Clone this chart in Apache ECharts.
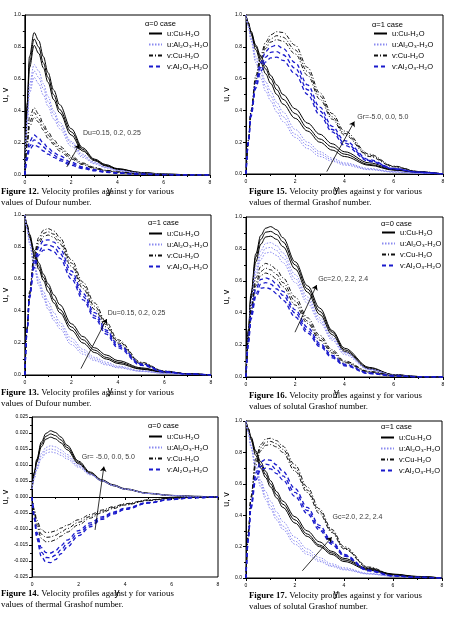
<!DOCTYPE html>
<html lang="en">
<head>
    <meta charset="UTF-8">
    <title>Velocity profiles</title>
    <script src="https://cdn.jsdelivr.net/npm/echarts/dist/echarts.min.js"></script>
    <style>
        body { margin: 0; background: #fff; }
    </style>
</head>
<body>
    <div id="main" style="width:449px;height:622px;"></div>

    <script>
        // y positions where the curves are sampled
        const ys = [0, 0.1, 0.2, 0.4, 0.6, 0.8, 1, 1.25, 1.5, 2, 2.5, 3, 3.5, 4, 5, 6, 7, 8];

        // Figure 12 (alpha=0, Du)
        const fig12_uCu = [
            [0, 0.45, 0.74, 0.89, 0.84, 0.74, 0.64, 0.53, 0.44, 0.29, 0.17, 0.10, 0.065, 0.04, 0.016, 0.006, 0.002, 0],
            [0, 0.42, 0.70, 0.85, 0.80, 0.70, 0.61, 0.50, 0.41, 0.27, 0.16, 0.095, 0.06, 0.038, 0.015, 0.006, 0.002, 0],
            [0, 0.40, 0.67, 0.81, 0.76, 0.67, 0.58, 0.47, 0.39, 0.25, 0.15, 0.09, 0.056, 0.035, 0.014, 0.005, 0.002, 0]
        ];
        const fig12_uAl = [
            [0, 0.35, 0.57, 0.69, 0.65, 0.57, 0.49, 0.40, 0.33, 0.21, 0.13, 0.08, 0.05, 0.03, 0.012, 0.005, 0.002, 0],
            [0, 0.33, 0.54, 0.65, 0.61, 0.54, 0.46, 0.38, 0.31, 0.20, 0.12, 0.075, 0.047, 0.028, 0.011, 0.004, 0.002, 0],
            [0, 0.31, 0.51, 0.61, 0.57, 0.50, 0.43, 0.35, 0.29, 0.18, 0.11, 0.07, 0.044, 0.026, 0.01, 0.004, 0.001, 0]
        ];
        const fig12_vCu = [
            [0, 0.22, 0.36, 0.42, 0.38, 0.32, 0.27, 0.22, 0.18, 0.12, 0.075, 0.048, 0.03, 0.02, 0.008, 0.003, 0.001, 0],
            [0, 0.20, 0.33, 0.39, 0.35, 0.30, 0.25, 0.20, 0.165, 0.11, 0.07, 0.044, 0.028, 0.018, 0.007, 0.003, 0.001, 0],
            [0, 0.18, 0.30, 0.36, 0.33, 0.28, 0.23, 0.19, 0.15, 0.10, 0.065, 0.04, 0.026, 0.016, 0.006, 0.002, 0.001, 0]
        ];
        const fig12_vAl = [
            [0, 0.13, 0.21, 0.25, 0.23, 0.20, 0.17, 0.14, 0.12, 0.08, 0.05, 0.033, 0.021, 0.013, 0.005, 0.002, 0.001, 0],
            [0, 0.11, 0.18, 0.22, 0.20, 0.175, 0.15, 0.125, 0.10, 0.07, 0.045, 0.03, 0.019, 0.012, 0.005, 0.002, 0.001, 0],
            [0, 0.095, 0.16, 0.19, 0.175, 0.15, 0.13, 0.11, 0.09, 0.06, 0.04, 0.026, 0.017, 0.011, 0.004, 0.002, 0.001, 0]
        ];

        // Figure 15 (alpha=1, Gr)
        const fig15_uCu = [
            [1, 0.95, 0.90, 0.81, 0.74, 0.68, 0.62, 0.56, 0.50, 0.41, 0.32, 0.25, 0.19, 0.14, 0.07, 0.03, 0.012, 0],
            [1, 0.95, 0.89, 0.80, 0.72, 0.66, 0.60, 0.53, 0.47, 0.38, 0.29, 0.22, 0.17, 0.125, 0.06, 0.027, 0.01, 0],
            [1, 0.94, 0.88, 0.78, 0.70, 0.63, 0.57, 0.50, 0.44, 0.35, 0.27, 0.20, 0.15, 0.11, 0.055, 0.024, 0.009, 0]
        ];
        const fig15_uAl = [
            [1, 0.93, 0.86, 0.74, 0.65, 0.58, 0.52, 0.45, 0.39, 0.28, 0.20, 0.14, 0.10, 0.07, 0.035, 0.015, 0.006, 0],
            [1, 0.93, 0.85, 0.72, 0.63, 0.55, 0.49, 0.42, 0.36, 0.25, 0.18, 0.125, 0.09, 0.063, 0.03, 0.013, 0.005, 0],
            [1, 0.92, 0.84, 0.70, 0.60, 0.52, 0.46, 0.39, 0.33, 0.23, 0.16, 0.11, 0.08, 0.056, 0.027, 0.012, 0.005, 0]
        ];
        const fig15_vCu = [
            [0, 0.22, 0.40, 0.62, 0.75, 0.83, 0.875, 0.895, 0.89, 0.81, 0.67, 0.51, 0.38, 0.27, 0.125, 0.05, 0.016, 0],
            [0, 0.21, 0.39, 0.60, 0.73, 0.81, 0.85, 0.87, 0.86, 0.78, 0.645, 0.49, 0.36, 0.255, 0.118, 0.047, 0.015, 0],
            [0, 0.21, 0.38, 0.59, 0.71, 0.79, 0.83, 0.845, 0.835, 0.755, 0.62, 0.47, 0.345, 0.245, 0.11, 0.045, 0.014, 0]
        ];
        const fig15_vAl = [
            [0, 0.21, 0.38, 0.58, 0.70, 0.77, 0.80, 0.81, 0.79, 0.70, 0.56, 0.42, 0.30, 0.21, 0.09, 0.035, 0.012, 0],
            [0, 0.20, 0.37, 0.56, 0.67, 0.735, 0.765, 0.77, 0.75, 0.665, 0.53, 0.395, 0.28, 0.195, 0.085, 0.033, 0.011, 0],
            [0, 0.20, 0.36, 0.54, 0.645, 0.705, 0.73, 0.735, 0.715, 0.63, 0.50, 0.37, 0.265, 0.18, 0.08, 0.03, 0.01, 0]
        ];

        // Figure 13 (alpha=1, Du)
        const fig13_uCu = [
            [1, 0.94, 0.88, 0.78, 0.70, 0.63, 0.57, 0.50, 0.44, 0.32, 0.24, 0.17, 0.125, 0.09, 0.045, 0.02, 0.008, 0],
            [1, 0.93, 0.87, 0.76, 0.68, 0.61, 0.55, 0.47, 0.41, 0.30, 0.22, 0.155, 0.11, 0.08, 0.04, 0.018, 0.007, 0],
            [1, 0.93, 0.86, 0.75, 0.66, 0.59, 0.52, 0.45, 0.39, 0.28, 0.20, 0.14, 0.10, 0.072, 0.036, 0.016, 0.006, 0]
        ];
        const fig13_uAl = [
            [1, 0.92, 0.84, 0.70, 0.60, 0.52, 0.46, 0.39, 0.33, 0.23, 0.16, 0.11, 0.08, 0.055, 0.027, 0.012, 0.005, 0],
            [1, 0.91, 0.83, 0.68, 0.58, 0.50, 0.43, 0.36, 0.31, 0.21, 0.145, 0.10, 0.07, 0.05, 0.024, 0.011, 0.004, 0],
            [1, 0.91, 0.82, 0.67, 0.56, 0.48, 0.41, 0.34, 0.29, 0.19, 0.13, 0.09, 0.063, 0.045, 0.022, 0.01, 0.004, 0]
        ];
        const fig13_vCu = [
            [0, 0.30, 0.52, 0.76, 0.86, 0.905, 0.915, 0.90, 0.86, 0.72, 0.58, 0.45, 0.33, 0.22, 0.08, 0.025, 0.008, 0],
            [0, 0.29, 0.51, 0.74, 0.84, 0.885, 0.895, 0.88, 0.84, 0.70, 0.56, 0.43, 0.315, 0.21, 0.075, 0.023, 0.007, 0],
            [0, 0.29, 0.50, 0.72, 0.82, 0.865, 0.875, 0.86, 0.82, 0.68, 0.54, 0.41, 0.30, 0.20, 0.07, 0.022, 0.007, 0]
        ];
        const fig13_vAl = [
            [0, 0.29, 0.50, 0.71, 0.80, 0.84, 0.845, 0.83, 0.79, 0.65, 0.51, 0.39, 0.28, 0.19, 0.07, 0.022, 0.007, 0],
            [0, 0.28, 0.49, 0.69, 0.77, 0.81, 0.815, 0.80, 0.76, 0.625, 0.49, 0.37, 0.27, 0.18, 0.065, 0.02, 0.006, 0],
            [0, 0.28, 0.48, 0.67, 0.75, 0.78, 0.785, 0.77, 0.73, 0.60, 0.47, 0.355, 0.255, 0.17, 0.06, 0.019, 0.006, 0]
        ];

        // Figure 16 (alpha=0, Gc)
        const fig16_uCu = [
            [0, 0.30, 0.52, 0.77, 0.885, 0.93, 0.94, 0.92, 0.87, 0.72, 0.57, 0.43, 0.29, 0.18, 0.06, 0.015, 0.003, 0],
            [0, 0.29, 0.50, 0.75, 0.86, 0.905, 0.91, 0.89, 0.845, 0.70, 0.55, 0.41, 0.28, 0.17, 0.055, 0.014, 0.003, 0],
            [0, 0.28, 0.49, 0.72, 0.83, 0.875, 0.88, 0.86, 0.815, 0.675, 0.53, 0.39, 0.265, 0.16, 0.05, 0.013, 0.003, 0]
        ];
        const fig16_uAl = [
            [0, 0.27, 0.47, 0.69, 0.79, 0.835, 0.84, 0.82, 0.775, 0.64, 0.50, 0.37, 0.25, 0.155, 0.05, 0.013, 0.003, 0],
            [0, 0.26, 0.45, 0.66, 0.76, 0.805, 0.81, 0.79, 0.745, 0.615, 0.48, 0.355, 0.24, 0.15, 0.048, 0.012, 0.003, 0],
            [0, 0.25, 0.44, 0.64, 0.735, 0.775, 0.78, 0.76, 0.715, 0.59, 0.46, 0.34, 0.23, 0.14, 0.045, 0.011, 0.002, 0]
        ];
        const fig16_vCu = [
            [0, 0.25, 0.43, 0.62, 0.69, 0.71, 0.70, 0.67, 0.62, 0.50, 0.37, 0.26, 0.17, 0.10, 0.035, 0.01, 0.002, 0],
            [0, 0.24, 0.41, 0.59, 0.66, 0.68, 0.67, 0.64, 0.59, 0.475, 0.35, 0.245, 0.16, 0.095, 0.033, 0.009, 0.002, 0],
            [0, 0.23, 0.40, 0.57, 0.635, 0.65, 0.64, 0.61, 0.565, 0.45, 0.335, 0.23, 0.15, 0.09, 0.03, 0.008, 0.002, 0]
        ];
        const fig16_vAl = [
            [0, 0.23, 0.39, 0.55, 0.61, 0.62, 0.61, 0.58, 0.535, 0.42, 0.31, 0.21, 0.135, 0.08, 0.025, 0.007, 0.002, 0],
            [0, 0.22, 0.37, 0.52, 0.58, 0.59, 0.58, 0.55, 0.51, 0.40, 0.29, 0.20, 0.128, 0.075, 0.023, 0.006, 0.001, 0],
            [0, 0.21, 0.36, 0.50, 0.555, 0.56, 0.55, 0.52, 0.48, 0.375, 0.275, 0.19, 0.12, 0.07, 0.021, 0.006, 0.001, 0]
        ];

        // Figure 14 (alpha=0, Gr)
        const fig14_uCu = [
            [0.0025, 0.0078, 0.0118, 0.0172, 0.0199, 0.0207, 0.0202, 0.0187, 0.0162, 0.0112, 0.0078, 0.0054, 0.0038, 0.0026, 0.0012, 0.0005, 0.0002, 0],
            [0.0025, 0.0075, 0.0113, 0.0165, 0.019, 0.0197, 0.0192, 0.0178, 0.0155, 0.0108, 0.0075, 0.0052, 0.0037, 0.0025, 0.0011, 0.0005, 0.0002, 0],
            [0.0025, 0.0072, 0.0108, 0.0157, 0.0181, 0.0187, 0.0182, 0.0169, 0.0148, 0.0104, 0.0072, 0.005, 0.0035, 0.0024, 0.0011, 0.0004, 0.0001, 0]
        ];
        const fig14_uAl = [
            [0.0025, 0.0065, 0.0095, 0.0136, 0.0155, 0.016, 0.0157, 0.0147, 0.0133, 0.0101, 0.0073, 0.0052, 0.0037, 0.0025, 0.0011, 0.0005, 0.0002, 0],
            [0.0025, 0.0062, 0.009, 0.0128, 0.0146, 0.015, 0.0147, 0.0138, 0.0126, 0.0097, 0.0071, 0.0051, 0.0036, 0.0025, 0.0011, 0.0005, 0.0002, 0],
            [0.0025, 0.0059, 0.0085, 0.012, 0.0137, 0.0141, 0.0138, 0.013, 0.0119, 0.0093, 0.0069, 0.005, 0.0035, 0.0024, 0.0011, 0.0004, 0.0001, 0]
        ];
        const fig14_vCu = [
            [0, -0.004, -0.0072, -0.0102, -0.0111, -0.011, -0.0106, -0.0097, -0.0088, -0.0071, -0.0055, -0.0041, -0.003, -0.0021, -0.0009, -0.0003, -0.0001, 0],
            [0, -0.0045, -0.0082, -0.0116, -0.0126, -0.0125, -0.012, -0.011, -0.0099, -0.0079, -0.0061, -0.0045, -0.0033, -0.0023, -0.001, -0.0004, -0.0001, 0],
            [0, -0.005, -0.0091, -0.0129, -0.014, -0.0139, -0.0134, -0.0122, -0.011, -0.0087, -0.0066, -0.0049, -0.0036, -0.0025, -0.0011, -0.0004, -0.0001, 0]
        ];
        const fig14_vAl = [
            [0, -0.006, -0.011, -0.0158, -0.0174, -0.0175, -0.0168, -0.0152, -0.0135, -0.0105, -0.0081, -0.0062, -0.0047, -0.0035, -0.0017, -0.0007, -0.0002, 0],
            [0, -0.0065, -0.012, -0.0172, -0.0189, -0.019, -0.0182, -0.0165, -0.0146, -0.0113, -0.0087, -0.0066, -0.005, -0.0037, -0.0018, -0.0007, -0.0002, 0],
            [0, -0.007, -0.013, -0.0186, -0.0204, -0.0205, -0.0196, -0.0177, -0.0157, -0.0121, -0.0093, -0.007, -0.0053, -0.0039, -0.0019, -0.0008, -0.0002, 0]
        ];

        // Figure 17 (alpha=1, Gc)
        const fig17_uCu = [
            [1, 0.95, 0.90, 0.81, 0.74, 0.68, 0.62, 0.55, 0.49, 0.39, 0.30, 0.23, 0.17, 0.125, 0.06, 0.025, 0.01, 0],
            [1, 0.95, 0.89, 0.80, 0.72, 0.66, 0.60, 0.53, 0.47, 0.37, 0.28, 0.21, 0.16, 0.115, 0.055, 0.023, 0.009, 0],
            [1, 0.94, 0.88, 0.78, 0.70, 0.64, 0.58, 0.51, 0.45, 0.35, 0.265, 0.20, 0.15, 0.105, 0.05, 0.021, 0.008, 0]
        ];
        const fig17_uAl = [
            [1, 0.93, 0.85, 0.72, 0.62, 0.55, 0.49, 0.42, 0.36, 0.26, 0.185, 0.13, 0.09, 0.065, 0.03, 0.013, 0.005, 0],
            [1, 0.92, 0.84, 0.70, 0.60, 0.52, 0.46, 0.39, 0.33, 0.235, 0.165, 0.115, 0.08, 0.057, 0.027, 0.012, 0.005, 0],
            [1, 0.92, 0.83, 0.68, 0.58, 0.50, 0.44, 0.37, 0.31, 0.215, 0.15, 0.105, 0.073, 0.052, 0.025, 0.011, 0.004, 0]
        ];
        const fig17_vCu = [
            [0, 0.30, 0.52, 0.76, 0.85, 0.885, 0.89, 0.875, 0.84, 0.72, 0.58, 0.44, 0.31, 0.20, 0.07, 0.022, 0.006, 0],
            [0, 0.29, 0.51, 0.74, 0.83, 0.865, 0.87, 0.855, 0.82, 0.70, 0.56, 0.425, 0.30, 0.19, 0.066, 0.02, 0.006, 0],
            [0, 0.29, 0.50, 0.72, 0.81, 0.845, 0.85, 0.835, 0.80, 0.68, 0.545, 0.41, 0.29, 0.185, 0.063, 0.019, 0.005, 0]
        ];
        const fig17_vAl = [
            [0, 0.27, 0.47, 0.67, 0.74, 0.755, 0.75, 0.72, 0.68, 0.57, 0.45, 0.335, 0.235, 0.15, 0.05, 0.015, 0.004, 0],
            [0, 0.26, 0.45, 0.645, 0.71, 0.725, 0.72, 0.69, 0.65, 0.545, 0.43, 0.32, 0.225, 0.145, 0.048, 0.014, 0.004, 0],
            [0, 0.26, 0.44, 0.625, 0.69, 0.70, 0.695, 0.665, 0.625, 0.52, 0.41, 0.305, 0.215, 0.14, 0.045, 0.013, 0.004, 0]
        ];

        const seriesNames = ['u:Cu-H₂O', 'u:Al₂O₃-H₂O', 'v:Cu-H₂O', 'v:Al₂O₃-H₂O'];
        const lineLook = [
            {color: '#000000', width: 1, type: 'solid'},
            {color: '#8a8af0', width: 1, type: [1.5, 1.5]},
            {color: '#111111', width: 1, type: [4, 2, 1, 2]},
            {color: '#1a1acc', width: 1.3, type: [4, 3]}
        ];

        const sans = 'Liberation Sans';
        const serif = 'Liberation Serif';

        // one entry per panel: layout + which arrays go in it
        const panels = [
            {fig: 12, box: [14, 15, 196, 160], yMin: 0, yMax: 1, step: 0.2, digits: 1, alpha: 'α=0 case',
             curves: [fig12_uCu, fig12_uAl, fig12_vCu, fig12_vAl], legend: [148, 29.5], head: [145, 19.5],
             cap: [1, 186.5], end: 'values of Dufour number.', note: 'Du=0.15, 0.2, 0.25',
             arrow: [[1.81, 0.05], [2.35, 0.19]], notePos: [2.49, 0.26], nameGap: 8},
            {fig: 15, box: [246, 15, 197, 159], yMin: 0, yMax: 1, step: 0.2, digits: 1, alpha: 'α=1 case',
             curves: [fig15_uCu, fig15_uAl, fig15_vCu, fig15_vAl], legend: [373, 29.5], head: [372, 20.5],
             cap: [249, 186.5], end: 'values of thermal Grashof number.', note: 'Gr=-5.0, 0.0, 5.0',
             arrow: [[3.28, 0.015], [4.4, 0.33]], notePos: [4.5, 0.36], nameGap: 8},
            {fig: 13, box: [13, 215, 198, 160], yMin: 0, yMax: 1, step: 0.2, digits: 1, alpha: 'α=1 case',
             curves: [fig13_uCu, fig13_uAl, fig13_vCu, fig13_vAl], legend: [148, 229.5], head: [148, 218.5],
             cap: [1, 387.5], end: 'values of Dufour number.', note: 'Du=0.15, 0.2, 0.25',
             arrow: [[2.41, 0.04], [3.52, 0.35]], notePos: [3.54, 0.39], nameGap: 8},
            {fig: 16, box: [246, 217, 197, 160], yMin: 0, yMax: 1, step: 0.2, digits: 1, alpha: 'α=0 case',
             curves: [fig16_uCu, fig16_uAl, fig16_vCu, fig16_vAl], legend: [381, 228.5], head: [381, 219.5],
             cap: [249, 390], end: 'values of solutal Grashof number.', note: 'Gc=2.0, 2.2, 2.4',
             arrow: [[1.99, 0.28], [2.87, 0.575]], notePos: [2.91, 0.61], nameGap: 8},
            {fig: 14, box: [22, 417, 196, 160], yMin: -0.025, yMax: 0.025, step: 0.005, digits: 3, alpha: 'α=0 case',
             curves: [fig14_uCu, fig14_uAl, fig14_vCu, fig14_vAl], legend: [148, 432.5], head: [148, 421.5],
             cap: [1, 588.5], end: 'values of thermal Grashof number.', note: 'Gr= -5.0, 0.0, 5.0',
             arrow: [[2.71, -0.0103], [3.09, 0.0095]], notePos: [2.12, 0.0126], nameGap: 12},
            {fig: 17, box: [246, 421, 196, 157], yMin: 0, yMax: 1, step: 0.2, digits: 1, alpha: 'α=1 case',
             curves: [fig17_uCu, fig17_uAl, fig17_vCu, fig17_vAl], legend: [380, 433.5], head: [381, 422.5],
             cap: [249, 590.5], end: 'values of solutal Grashof number.', note: 'Gc=2.0, 2.2, 2.4',
             arrow: [[2.3, 0.046], [3.5, 0.26]], notePos: [3.51, 0.39], nameGap: 8}
        ];

        const grid = [], xAxis = [], yAxis = [], legend = [], title = [], series = [];

        panels.forEach(function (p, i) {
            grid.push({
                left: p.box[0], top: p.box[1], width: p.box[2], height: p.box[3],
                show: true, borderColor: '#000', borderWidth: 1, backgroundColor: 'transparent'
            });
            xAxis.push({
                gridIndex: i, type: 'value', min: 0, max: 8, interval: 2,
                name: 'y', nameLocation: 'middle', nameGap: 1,
                nameTextStyle: {fontFamily: sans, fontSize: 10, color: '#000', padding: [0, 16, 0, 0]},
                axisLine: {lineStyle: {color: '#000', width: 1}},
                axisTick: {length: 3, lineStyle: {color: '#000'}},
                minorTick: {show: true, splitNumber: 2, length: 2, lineStyle: {color: '#000'}},
                splitLine: {show: false},
                axisLabel: {fontFamily: sans, fontSize: 5, color: '#000', margin: 5}
            });
            yAxis.push({
                gridIndex: i, type: 'value', min: p.yMin, max: p.yMax, interval: p.step,
                name: 'u, v', nameLocation: 'middle', nameGap: p.nameGap,
                nameTextStyle: {fontFamily: sans, fontSize: 9, color: '#000'},
                axisLine: {lineStyle: {color: '#000', width: 1}},
                axisTick: {length: 3, lineStyle: {color: '#000'}},
                minorTick: {show: true, splitNumber: 2, length: 2, lineStyle: {color: '#000'}},
                splitLine: {show: false},
                axisLabel: {
                    fontFamily: sans, fontSize: 5, color: '#000', margin: 4,
                    formatter: function (v) { return v.toFixed(p.digits); }
                }
            });
            legend.push({
                data: seriesNames, orient: 'vertical', left: p.legend[0], top: p.legend[1],
                itemWidth: 13, itemHeight: 9, itemGap: 3, selectedMode: false, padding: 0,
                itemStyle: {opacity: 0},
                textStyle: {fontFamily: sans, fontSize: 7.5, color: '#000'}
            });
            title.push({
                text: p.alpha, left: p.head[0], top: p.head[1], padding: 0,
                textStyle: {fontFamily: sans, fontSize: 7.5, fontWeight: 'normal', color: '#000'}
            });
            title.push({
                text: '{b|Figure ' + p.fig + '.} Velocity profiles against y for various\n' + p.end,
                left: p.cap[0], top: p.cap[1], padding: 0,
                textStyle: {
                    fontFamily: serif, fontSize: 8.8, fontWeight: 'normal', color: '#000', lineHeight: 11,
                    rich: {b: {fontFamily: serif, fontSize: 8.8, fontWeight: 'bold', color: '#000', lineHeight: 11}}
                }
            });

            p.curves.forEach(function (group, k) {
                group.forEach(function (vals) {
                    series.push({
                        type: 'line', name: seriesNames[k], xAxisIndex: i, yAxisIndex: i,
                        data: ys.map(function (x, n) { return [x, vals[n]]; }),
                        symbol: 'none', smooth: 0.35, smoothMonotone: 'x', silent: true,
                        lineStyle: lineLook[k], itemStyle: {color: lineLook[k].color},
                        emphasis: {disabled: true}, z: 2 + k
                    });
                });
            });

            // arrow and parameter note
            series.push({
                type: 'lines', coordinateSystem: 'cartesian2d', xAxisIndex: i, yAxisIndex: i,
                data: [{coords: p.arrow}], symbol: ['none', 'arrow'], symbolSize: 5, silent: true,
                lineStyle: {color: '#000', width: 0.8, opacity: 1, type: 'solid'}, z: 10
            });
            series.push({
                type: 'scatter', xAxisIndex: i, yAxisIndex: i, data: [p.notePos],
                symbolSize: 1, itemStyle: {color: 'rgba(0,0,0,0)'}, silent: true, z: 10,
                label: {
                    show: true, position: 'right', distance: 0, formatter: p.note,
                    fontFamily: sans, fontSize: 7, color: '#000'
                }
            });
        });

        const option = {
            animation: false,
            backgroundColor: '#fff',
            title: title,
            legend: legend,
            grid: grid,
            xAxis: xAxis,
            yAxis: yAxis,
            series: series
        };

        var myChart = echarts.init(document.getElementById('main'));
        myChart.setOption(option);
    </script>
</body>
</html>
